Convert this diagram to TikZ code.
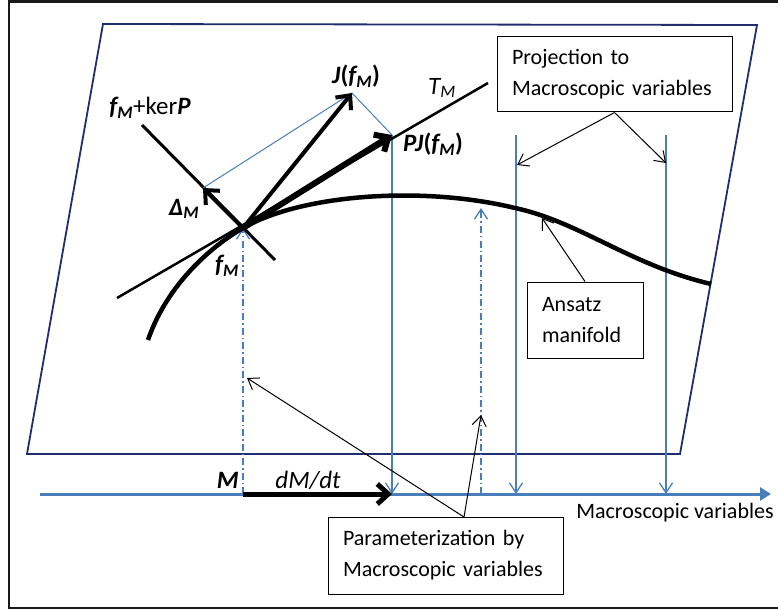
\documentclass[tikz,border=0pt]{standalone}
\usepackage{fontspec}
\setmainfont{Carlito}
\usetikzlibrary{arrows.meta}
\definecolor{planeblue}{RGB}{32,45,110}
\definecolor{axisblue}{RGB}{74,126,187}
\newcommand{\fM}{\textbf{\textit{f\textsubscript{M}}}}
\begin{document}
\begin{tikzpicture}[x=1pt,y=-1pt,
    plane/.style={draw=planeblue, line width=1.8pt},
    axis/.style={draw=axisblue, line width=3pt, -{Triangle[length=11pt,width=13pt]}},
    proj/.style={draw=axisblue, line width=1.3pt, -{Straight Barb[length=10pt,width=13pt]}},
    param/.style={draw=axisblue, line width=1.3pt, dash pattern=on 7pt off 3pt on 1.5pt off 3pt,
      -{Straight Barb[length=10pt,width=13pt]}},
    guide/.style={draw=axisblue, line width=1pt},
    note/.style={line width=1pt, -{Straight Barb[length=10pt,width=14pt]}},
    vec/.style={line width=#1, -{Straight Barb[length=11pt,width=20pt]}},
    vec/.default=4pt,
    lbl/.style={font=\fontsize{25}{28}\selectfont, inner sep=0pt},
    box/.style={draw, line width=1pt, align=left, inner xsep=15pt, inner ysep=0pt,
      font=\fontsize{22}{31}\selectfont}]
  \useasboundingbox (0,0) rectangle (778,612);
  % frame and plane
  \draw[line width=2.5pt, color=black!90] (790,1.5) -- (9,1.5) -- (9,608) -- (790,608);
  \draw[plane] (103,24) -- (757,25) -- (680,454) -- (27,454) -- cycle;

  % points
  \coordinate (fM) at (243,228);
  \coordinate (J) at (352,93);
  \coordinate (PJ) at (392,135);
  \coordinate (D) at (203,188);
  \coordinate (M) at (243,494);
  \coordinate (dM) at (392,494);
  \coordinate (axL) at (40,494);
  \coordinate (axR) at (771,494);

  % axis of macroscopic variables
  \draw[axis] (axL) -- (axR);
  \node[font=\fontsize{22}{26}\selectfont] (axlbl) at (675,513) {Macroscopic variables};

  % projections down to the axis
  \coordinate (pa) at (516,135);
  \coordinate (pb) at (666,135);
  \coordinate (pa') at (516,494);
  \coordinate (pb') at (666,494);
  \draw[proj] (PJ) -- (dM);
  \draw[proj] (pa) -- (pa');
  \draw[proj] (pb) -- (pb');

  % parameterization up from the axis
  \coordinate (qa) at (481,494);
  \coordinate (qa') at (481,208);
  \draw[param] (M) -- (fM);
  \draw[param] (qa) -- (qa');

  % ansatz manifold
  \draw[line width=4.5pt] (148,340) .. controls (165,290) and (205,250) .. (fM)
    .. controls (300,195) and (420,185) .. (515,208)
    .. controls (580,222) and (630,265) .. (711,284);

  % tangent space and kernel
  \coordinate (TL) at (117,298);
  \coordinate (TR) at (488,83);
  \coordinate (KL) at (142,125);
  \coordinate (KR) at (275,260);
  \draw[line width=2.5pt] (TL) -- (TR);
  \draw[line width=3pt] (KL) -- (KR);

  % construction lines
  \draw[guide] (D) -- (J) -- (PJ);

  % vectors
  \draw[vec] (fM) -- (D);
  \draw[vec] (fM) -- (J);
  \draw[vec=6pt] (fM) -- (PJ);
  \draw[vec=5pt] (M) -- (dM);

  % labels
  \node[lbl] (kerlbl) at (150,108) {\fM+ker\textbf{\textit{P}}};
  \node[lbl] (Jlbl) at (356,76) {\textbf{\textit{J}(\fM)}};
  \node[lbl] (PJlbl) at (433,144) {\textbf{\textit{PJ}(\fM)}};
  \node[lbl] (Tlbl) at (442,88) {\textit{T\textsubscript{M}}};
  \node[lbl] (Dlbl) at (184,209) {\textbf{\textit{Δ\textsubscript{M}}}};
  \node[lbl] (fMlbl) at (227,266) {\fM};
  \node[lbl, anchor=east] (Mlbl) at (239,480) {\textbf{\textit{M}}};
  \node[lbl] (dMlbl) at (308,480) {\textit{dM/dt}};

  % boxes
  \node[box, minimum width=235pt, minimum height=75pt, text width=205pt]
    (projbox) at (614.5,74.5) {Projection to\\Macroscopic variables};
  \node[box, minimum width=116pt, minimum height=76pt, text width=86pt]
    (ansbox) at (585,320) {Ansatz\\manifold};
  \node[box, minimum width=235pt, minimum height=77pt, text width=205pt]
    (parbox) at (445.5,555.5) {Parameterization by\\Macroscopic variables};

  \coordinate (pm) at (464,517);
  \coordinate (ca) at (517,165);
  \coordinate (cb) at (666,163);
  \coordinate (ma) at (542,218);
  \coordinate (ua) at (247,378);
  \coordinate (ub) at (481,415);
  \draw[note] (projbox.south) -- (ca);
  \draw[note] (projbox.south) -- (cb);
  \draw[note] (ansbox.north) -- (ma);
  \draw[note] (pm) -- (ua);
  \draw[note] (pm) -- (ub);
\end{tikzpicture}
\end{document}
